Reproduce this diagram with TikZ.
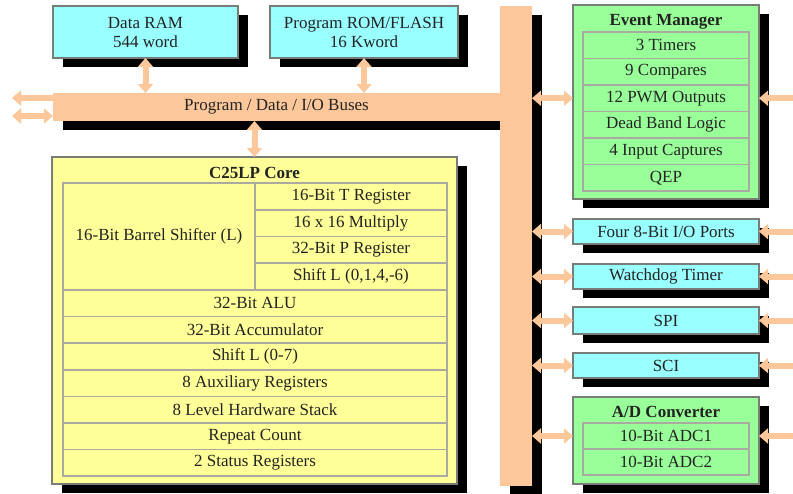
\documentclass[tikz,border=0pt]{standalone}
\usepackage{fontspec}
\setmainfont{Liberation Serif}
\usetikzlibrary{arrows.meta,shadows}
\definecolor{cyanbox}{RGB}{153,255,255}
\definecolor{greenbox}{RGB}{153,255,153}
\definecolor{yellowbox}{RGB}{255,255,153}
\definecolor{peach}{RGB}{252,200,155}
\definecolor{bord}{RGB}{120,125,120}
\definecolor{cellbord}{RGB}{170,170,160}
\definecolor{txt}{RGB}{35,35,35}
\begin{document}
\begin{tikzpicture}[x=1pt,y=-1pt,
  every node/.style={inner sep=0pt, outer sep=0pt, font=\fontsize{17}{19}\selectfont, text=txt},
  box/.style={draw=bord, line width=1.2pt, anchor=north west, align=center},
  shad/.style={drop shadow={shadow xshift=10pt, shadow yshift=-9pt, opacity=1, fill=black}},
  cell/.style={draw=cellbord, line width=1.6pt, anchor=north west, align=center},
  bus/.style={fill=peach, anchor=north west},
  arr/.style={draw=peach, line width=6pt, {Triangle[width=15pt,length=9pt]}-{Triangle[width=15pt,length=9pt]}},
  arrl/.style={draw=peach, line width=6pt, -{Triangle[width=15pt,length=9pt]}},
  ttl/.style={font=\fontsize{17}{19}\selectfont\bfseries}
]
\useasboundingbox (0,0) rectangle (793,493);
\begin{scope}
\clip (0,0) rectangle (793,493);
% buses
\node[bus, shad, minimum width=447pt, minimum height=28pt] (hbus) at (53,93) {Program / Data / I/O Buses};
\node[bus, shad, minimum width=32pt, minimum height=480pt] (vbus) at (500,6) {};
% memories
\node[box, shad, fill=cyanbox, minimum width=185pt, minimum height=52pt] (ram) at (53,6) {Data RAM\\544 word};
\node[box, shad, fill=cyanbox, minimum width=188pt, minimum height=52pt] (rom) at (270,6) {Program ROM/FLASH\\16 Kword};
% core
\node[box, shad, fill=yellowbox, minimum width=405pt, minimum height=327pt] (core) at (52,157) {};
\node[ttl] (coret) at (254.5,173) {C25LP Core};
\node[cell, minimum width=192pt, minimum height=107pt] (bs) at (63,183) {16-Bit Barrel Shifter (L)};
\node[cell, minimum width=192pt, minimum height=26.75pt] (treg) at (255,183) {16-Bit T Register};
\node[cell, minimum width=192pt, minimum height=26.75pt] (mul) at (255,209.75) {16 x 16 Multiply};
\node[cell, minimum width=192pt, minimum height=26.75pt] (preg) at (255,236.5) {32-Bit P Register};
\node[cell, minimum width=192pt, minimum height=26.75pt] (shl) at (255,263.25) {Shift L (0,1,4,-6)};
\node[cell, minimum width=384pt, minimum height=26.6pt] (alu) at (63,290) {32-Bit ALU};
\node[cell, minimum width=384pt, minimum height=26.6pt] (acc) at (63,316.6) {32-Bit Accumulator};
\node[cell, minimum width=384pt, minimum height=26.6pt] (sh7) at (63,343.2) {Shift L (0-7)};
\node[cell, minimum width=384pt, minimum height=26.6pt] (aux) at (63,369.8) {8 Auxiliary Registers};
\node[cell, minimum width=384pt, minimum height=26.6pt] (stk) at (63,396.4) {8 Level Hardware Stack};
\node[cell, minimum width=384pt, minimum height=26.6pt] (rpt) at (63,423) {Repeat Count};
\node[cell, minimum width=384pt, minimum height=26.6pt] (sts) at (63,449.6) {2 Status Registers};
% event manager
\node[box, shad, fill=greenbox, minimum width=186pt, minimum height=194pt] (em) at (573,5) {};
\node[ttl] (emt) at (666,22) {Event Manager};
\node[cell, minimum width=166pt, minimum height=26.5pt] (tim) at (583,32) {3 Timers};
\node[cell, minimum width=166pt, minimum height=26.5pt] (cmp) at (583,58.5) {9 Compares};
\node[cell, minimum width=166pt, minimum height=26.5pt] (pwm) at (583,85) {12 PWM Outputs};
\node[cell, minimum width=166pt, minimum height=26.5pt] (dbl) at (583,111.5) {Dead Band Logic};
\node[cell, minimum width=166pt, minimum height=26.5pt] (cap) at (583,138) {4 Input Captures};
\node[cell, minimum width=166pt, minimum height=26.5pt] (qep) at (583,164.5) {QEP};
% peripherals
\node[box, shad, fill=cyanbox, minimum width=186pt, minimum height=25pt] (io) at (573,219) {Four 8-Bit I/O Ports};
\node[box, shad, fill=cyanbox, minimum width=186pt, minimum height=25pt] (wd) at (573,264) {Watchdog Timer};
\node[box, shad, fill=cyanbox, minimum width=186pt, minimum height=27pt] (spi) at (573,307) {SPI};
\node[box, shad, fill=cyanbox, minimum width=186pt, minimum height=25pt] (sci) at (573,353) {SCI};
\node[box, shad, fill=greenbox, minimum width=186pt, minimum height=87pt] (adc) at (573,397) {};
\node[ttl] (adct) at (666,412) {A/D Converter};
\node[cell, minimum width=166pt, minimum height=26pt] (adc1) at (583,423) {10-Bit ADC1};
\node[cell, minimum width=166pt, minimum height=26pt] (adc2) at (583,449) {10-Bit ADC2};
% free ends
\coordinate (L1) at (12,98);
\coordinate (L2) at (12,116);
\coordinate (E) at (806,0);
% arrows
\draw[arr] (ram.south) -- (ram.south |- hbus.north);
\draw[arr] (rom.south) -- (rom.south |- hbus.north);
\draw[arr] (core.north |- hbus.south) -- (core.north);
\draw[arrl] (hbus.west |- L1) -- (L1);
\draw[arr] (hbus.west |- L2) -- (L2);
\draw[arr] (vbus.east |- pwm) -- (em.west |- pwm);
\draw[arr] (vbus.east |- io) -- (io.west);
\draw[arr] (vbus.east |- wd) -- (wd.west);
\draw[arr] (vbus.east |- spi) -- (spi.west);
\draw[arr] (vbus.east |- sci) -- (sci.west);
\draw[arr] (vbus.east |- adc1) -- (adc.west |- adc1);
\draw[arr] (em.east |- pwm) -- (E |- pwm);
\draw[arr] (io.east) -- (E |- io);
\draw[arr] (wd.east) -- (E |- wd);
\draw[arr] (spi.east) -- (E |- spi);
\draw[arr] (sci.east) -- (E |- sci);
\draw[arr] (adc.east |- adc1) -- (E |- adc1);
\end{scope}
\end{tikzpicture}
\end{document}
